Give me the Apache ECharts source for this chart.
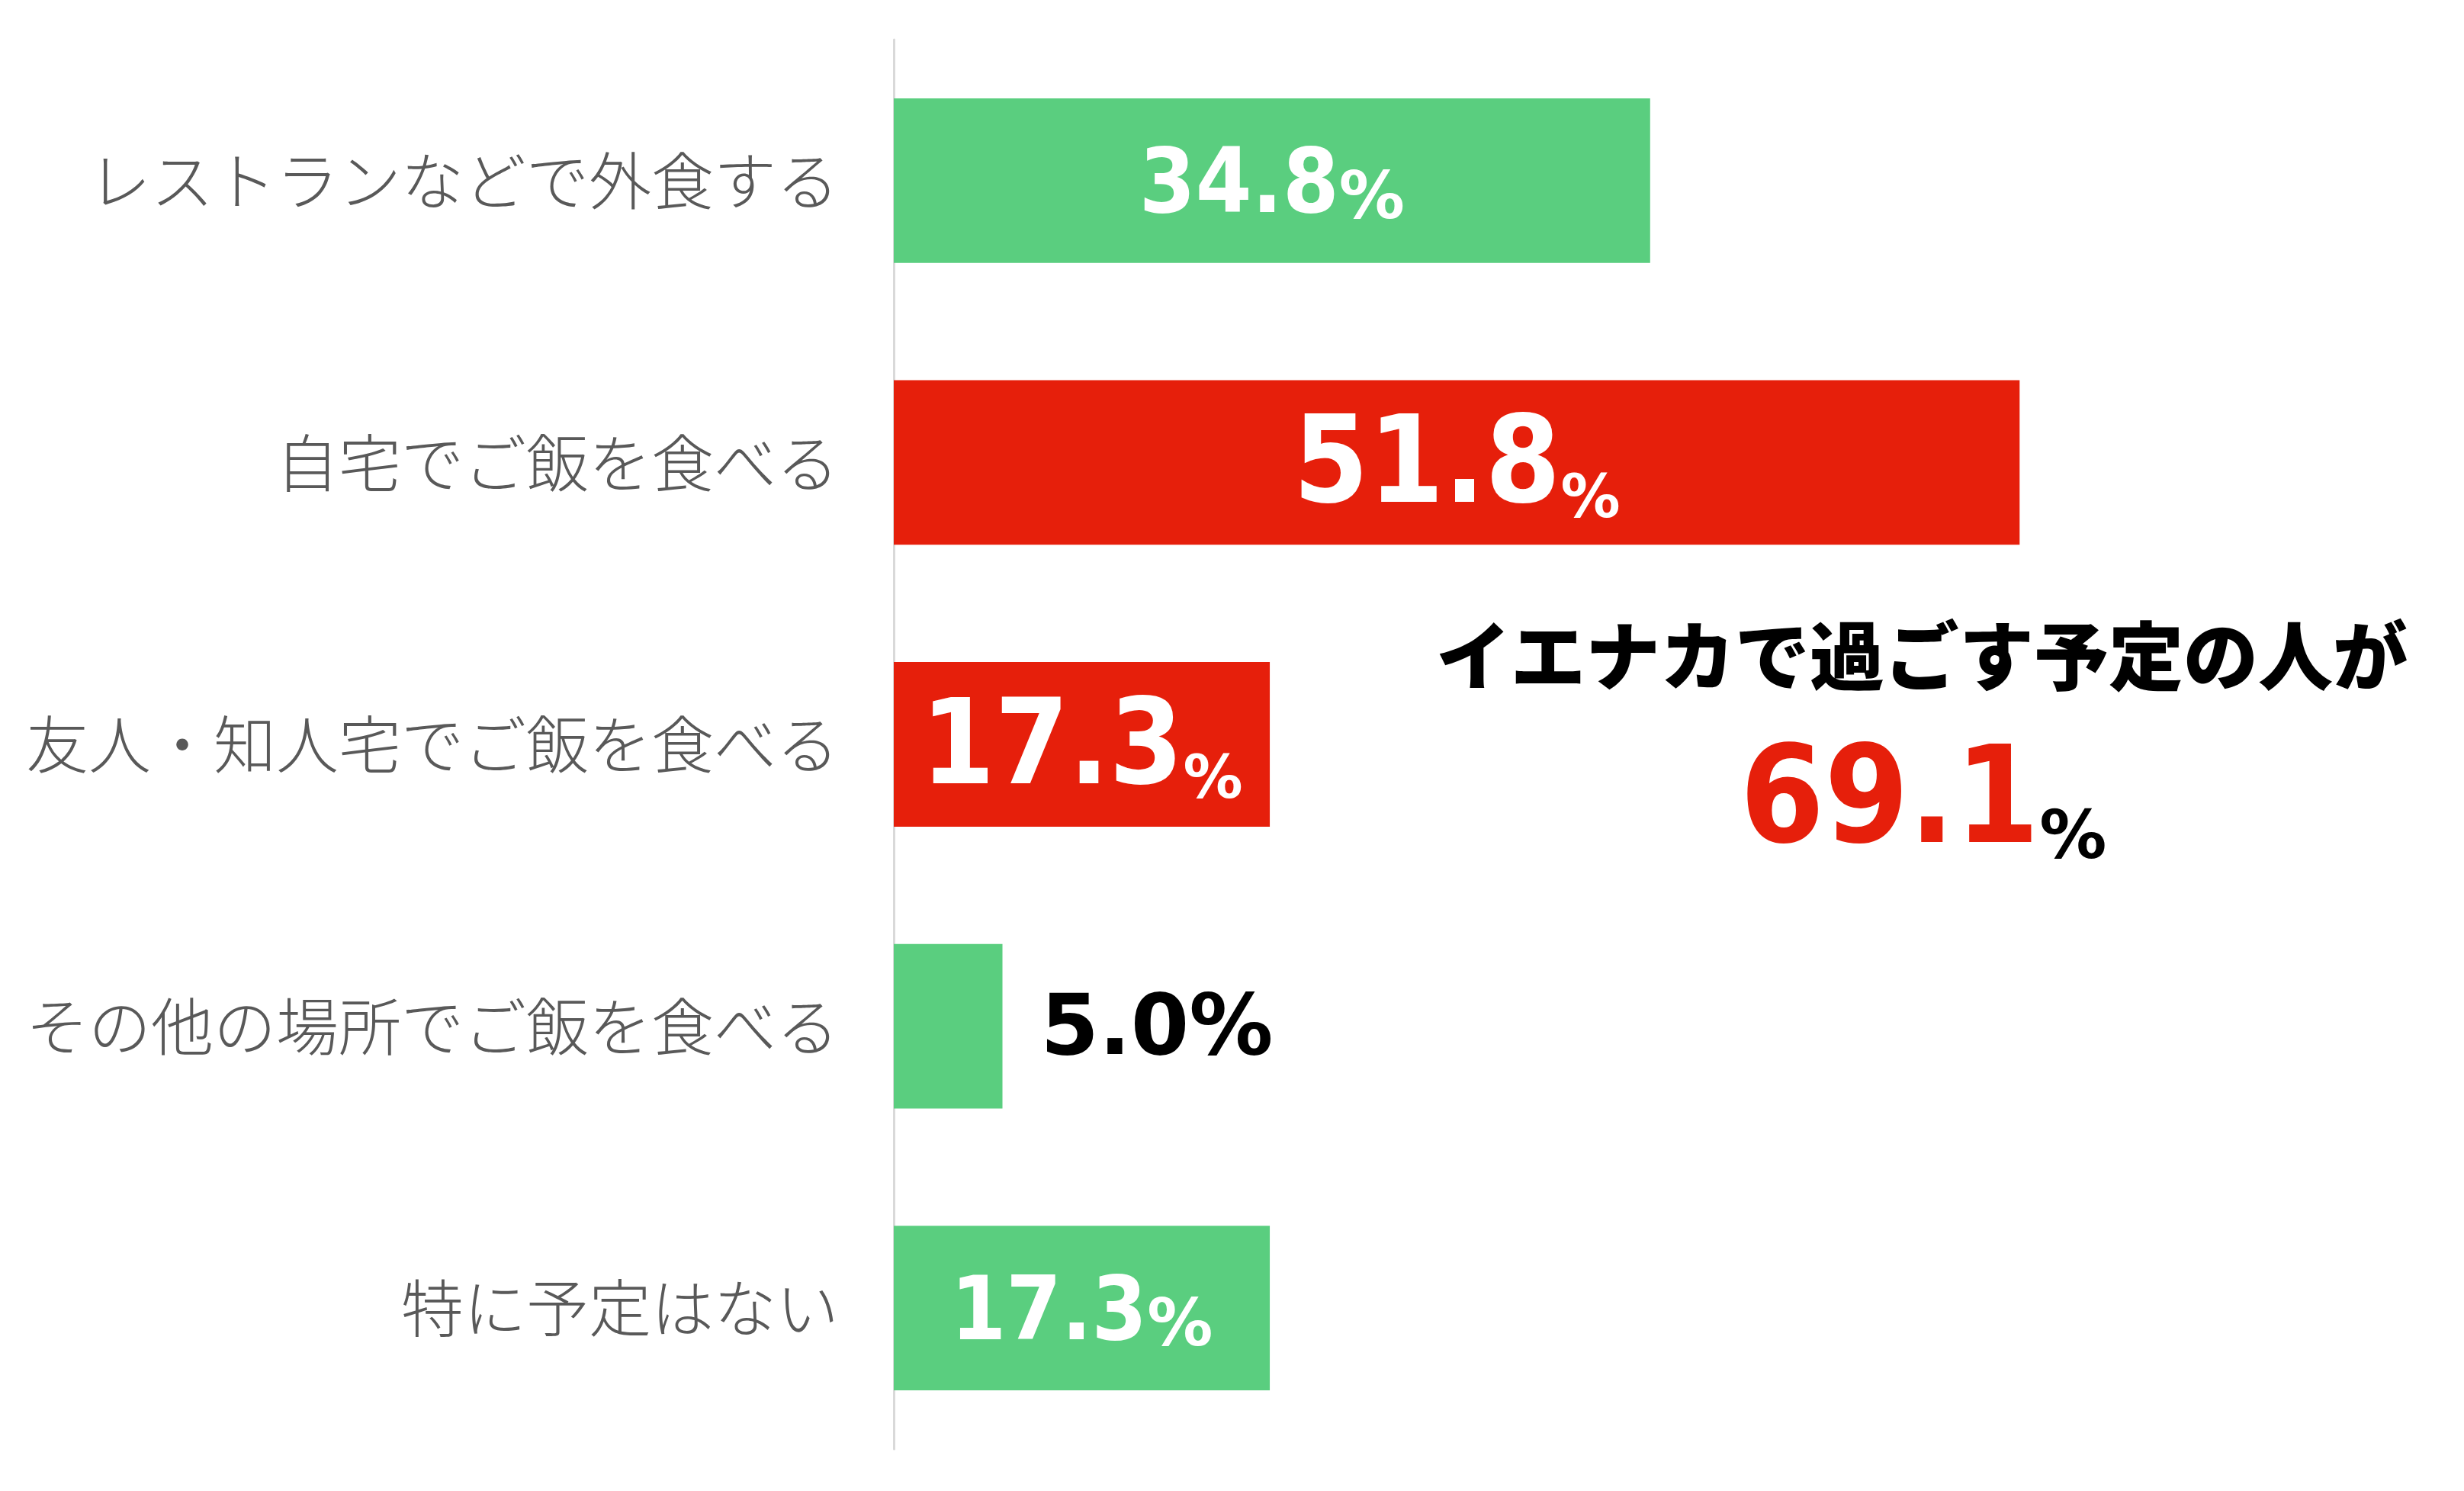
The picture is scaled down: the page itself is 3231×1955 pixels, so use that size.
<!DOCTYPE html>
<html>
<head>
<meta charset="utf-8">
<script src="https://cdn.jsdelivr.net/npm/echarts@6/dist/echarts.min.js"></script>
<style>
  html, body { margin: 0; padding: 0; background: #fff; }
  #chart { width: 3231px; height: 1955px; }
</style>
</head>
<body>
<div id="chart"></div>
<script>
  // 回答カテゴリ（上から順）
  const categories = [
    'レストランなどで外食する',
    '自宅でご飯を食べる',
    '友人・知人宅でご飯を食べる',
    'その他の場所でご飯を食べる',
    '特に予定はない',
  ]
  const values = [34.8, 51.8, 17.3, 5.0, 17.3]
  // イエナカ（自宅・友人宅）に該当する項目
  const ienaka = [false, true, true, false, false]
  const ienakaTitle = 'イエナカで過ごす予定の人が'
  const ienakaTotal = 69.1

  const GREEN = '#5ACE7F'
  const RED = '#E61F0B'
  const numFont = 'DejaVu Sans Condensed'
  const pctFont = 'DejaVu Sans'
  const jpFont = '"Noto Sans CJK JP", "Noto Sans", sans-serif'

  // 数字と小さい％のベースラインを揃える
  function richFor(fn, fp, color) {
    return {
      n: { fontFamily: numFont, fontWeight: 'bold', fontSize: fn, lineHeight: fn, color: color, verticalAlign: 'bottom' },
      p: { fontFamily: pctFont, fontWeight: 'bold', fontSize: fp, lineHeight: 0.6 * fp + 0.4 * fn, color: color, verticalAlign: 'bottom' },
    }
  }

  const seriesData = values.map((v, i) => {
    const item = {
      value: v,
      itemStyle: { color: ienaka[i] ? RED : GREEN },
    }
    if (v < 10) {
      // 短いバーは外側に黒文字
      item.label = {
        show: true,
        position: 'right',
        distance: 50,
        offset: [0, 8],
        formatter: (p) => p.value.toFixed(1) + '%',
        fontFamily: pctFont,
        fontWeight: 'bold',
        fontSize: 110,
        color: '#000',
      }
    } else {
      let fn = 118
      let fp = 86
      if (ienaka[i]) {
        fn = v > 40 ? 158 : 155
        fp = 78
      } else if (v < 20) {
        fn = 116
      }
      item.label = {
        show: true,
        position: 'inside',
        offset: [0, 11],
        formatter: (p) => '{n|' + p.value.toFixed(1) + '}{p|%}',
        rich: richFor(fn, fp, '#fff'),
      }
    }
    return item
  })

  const chart = echarts.init(document.getElementById('chart'))
  chart.setOption({
    animation: false,
    backgroundColor: '#fff',
    grid: {
      left: 1172,
      right: 64,
      top: 52,
      bottom: 55,
      containLabel: false,
    },
    xAxis: {
      type: 'value',
      min: 0,
      max: 70,
      show: false,
    },
    yAxis: {
      type: 'category',
      inverse: true,
      data: categories,
      axisTick: { show: false },
      axisLine: {
        show: true,
        lineStyle: { color: '#d9d9d9', width: 3 },
      },
      axisLabel: {
        margin: 72,
        padding: [0, 0, 12, 0],
        fontFamily: jpFont,
        fontWeight: 300,
        fontSize: 82,
        color: '#595959',
      },
    },
    series: [
      {
        type: 'bar',
        data: seriesData,
        barCategoryGap: '41.6%',
      },
    ],
    graphic: [
      {
        type: 'text',
        x: 2520,
        y: 860,
        style: {
          text: ienakaTitle,
          fontFamily: jpFont,
          fontWeight: 900,
          fontSize: 98,
          fill: '#000',
          align: 'center',
          verticalAlign: 'middle',
        },
      },
      {
        type: 'text',
        x: 2522,
        y: 1058,
        style: {
          text: '{n|' + ienakaTotal.toFixed(1) + '}{p|%}',
          align: 'center',
          verticalAlign: 'middle',
          rich: {
            n: { fontFamily: numFont, fontWeight: 'bold', fontSize: 177, lineHeight: 177, fill: RED, verticalAlign: 'bottom' },
            p: { fontFamily: pctFont, fontWeight: 'bold', fontSize: 88, lineHeight: 0.6 * 88 + 0.4 * 177, fill: '#000', verticalAlign: 'bottom' },
          },
        },
      },
    ],
  })
</script>
</body>
</html>
